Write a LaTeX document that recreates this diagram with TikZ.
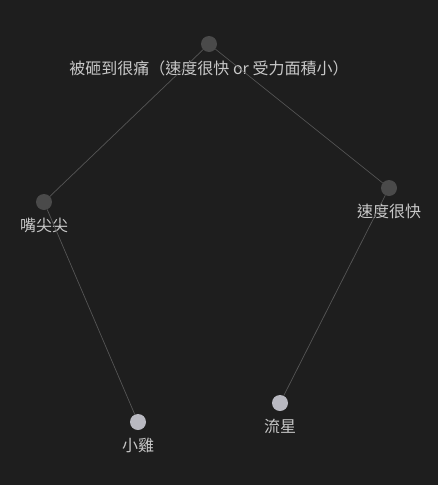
\documentclass[tikz,border=0pt]{standalone}
\usepackage{fontspec}
\newfontfamily\cjktc{Noto Sans CJK TC}
\usetikzlibrary{positioning}
\definecolor{graphbg}{HTML}{1E1E1E}
\definecolor{graphedge}{HTML}{555555}
\definecolor{graphdark}{HTML}{4A4A4A}
\definecolor{graphleaf}{HTML}{B9B9C1}
\definecolor{graphtext}{HTML}{C8C8C8}
\begin{document}
\begin{tikzpicture}[x=1pt,y=-1pt, every node/.style={font=\cjktc\fontsize{16}{18}\selectfont,text=graphtext}]
\tikzset{hub/.style={circle,fill=graphdark,minimum size=16pt,inner sep=0pt},
  leaf/.style={circle,fill=graphleaf,minimum size=16pt,inner sep=0pt},
  link/.style={draw=graphedge,line width=0.7pt}}
\fill[graphbg] (0,0) rectangle (438,485);
\useasboundingbox (0,0) rectangle (438,485);
\node[hub] (hurt) at (209,44) {};
\node[hub] (beak) at (44,202) {};
\node[hub] (fast) at (389,188) {};
\node[leaf] (chick) at (138,422) {};
\node[leaf] (meteor) at (280,403) {};
\node[below=8pt of hurt,inner sep=0pt] (hurtlabel) {被砸到很痛（速度很快 or 受力面積小）};
\node[below=8pt of beak,inner sep=0pt] (beaklabel) {嘴尖尖};
\node[below=8pt of fast,inner sep=0pt] (fastlabel) {速度很快};
\node[below=8pt of chick,inner sep=0pt] (chicklabel) {小雞};
\node[below=8pt of meteor,inner sep=0pt] (meteorlabel) {流星};
\draw[link] (hurt) -- (beak);
\draw[link] (hurt) -- (fast);
\draw[link] (beak) -- (chick);
\draw[link] (fast) -- (meteor);
\end{tikzpicture}
\end{document}
